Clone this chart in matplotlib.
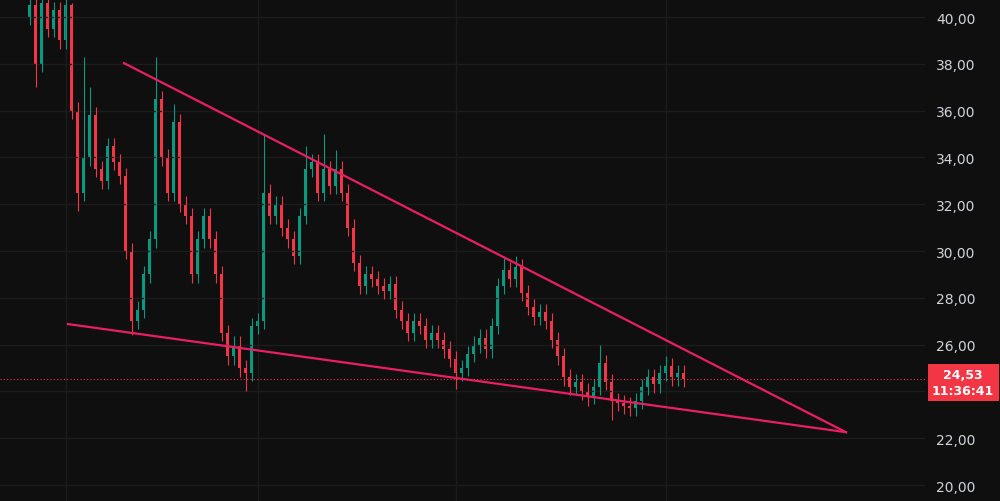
import matplotlib.pyplot as plt
from matplotlib.ticker import FuncFormatter

closes = [40.5, 38, 40.6, 39.5, 40.3, 39, 40.5, 36, 32.5, 34,
          35.8, 33.5, 33, 34.5, 33.8, 33.2, 30, 27, 27.5, 29,
          30.5, 36.5, 34, 32.5, 35.5, 32, 31.5, 29, 30.5, 31.5,
          30.5, 29, 26.5, 25.5, 26, 25, 24.8, 26.8, 27, 32.5,
          31.5, 32, 31, 30.5, 29.8, 31.5, 33.5, 33.8, 32.5, 33.5,
          32.8, 33.5, 32.5, 31, 29.5, 28.5, 29, 28.8, 28.5, 28.3,
          28.6, 27.5, 27, 26.5, 27, 26.8, 26.2, 26.5, 26.2, 25.8,
          25.4, 24.8, 25, 25.6, 26, 26.3, 25.8, 26.8, 28.5, 29.2,
          28.8, 29.3, 28.2, 27.6, 27.2, 27.4, 27, 26.2, 25.5, 24.6,
          24.2, 24.4, 24, 23.8, 24.2, 25.2, 24.4, 23.6, 23.5, 23.4,
          23.3, 23.6, 24.2, 24.6, 24.3, 24.8, 25.1, 24.6, 24.8, 24.53]
first_open = 40.0
high_spikes = {1: 40.8, 7: 40.6, 9: 38.3, 10: 37.0, 21: 38.3, 24: 36.3, 39: 35.0,
               46: 34.5, 49: 35.0, 51: 34.3, 81: 29.8, 79: 29.7, 95: 26.0, 106: 25.5}
low_spikes = {1: 37.0, 8: 31.7, 17: 26.4, 36: 24.0, 35: 24.6, 71: 24.1, 97: 22.8, 93: 23.4}
last_price = 24.53
upper_line = ([15.67, 136.0], [38.03, 22.26])
lower_line = ([6.33, 136.0], [26.88, 22.26])

BG = '#0f0f0f'
UP, DN = '#089981', '#f23645'
fig = plt.figure(figsize=(10, 5.02), dpi=100, facecolor=BG)
ax = fig.add_axes([0, 0, 0.925, 1])
ax.set_facecolor(BG)

opens = [first_open] + closes[:-1]
for i, (o, c) in enumerate(zip(opens, closes)):
    col = UP if c >= o else DN
    hi = high_spikes.get(i, max(o, c) + 0.35)
    lo = low_spikes.get(i, min(o, c) - 0.35)
    ax.vlines(i, lo, hi, color=col, lw=0.8)
    ax.bar(i, max(abs(c - o), 0.05), bottom=min(o, c), width=0.5, color=col)

ax.plot(*upper_line, color='#e91e63', lw=1.6)
ax.plot(*lower_line, color='#e91e63', lw=1.6)
ax.axhline(last_price, color=DN, lw=0.8, ls=(0, (1, 2)))

ax.set_xlim(-5, 149.17)
ax.set_ylim(19.32, 40.77)
ax.set_yticks(range(20, 41, 2))
ax.yaxis.tick_right()
ax.yaxis.set_major_formatter(FuncFormatter(lambda v, p: f"{v:.2f}".replace('.', ',')))
ax.tick_params(axis='y', colors='#d1d4dc', labelsize=10, length=0, pad=8)
ax.set_xticks([6, 38, 71, 106])
ax.tick_params(axis='x', length=0, labelbottom=False)
ax.grid(True, color='#1c1c1c', lw=1)
for s in ax.spines.values():
    s.set_visible(False)

fig.text(0.963, 0.236, "24,53\n11:36:41", ha='center', va='center', color='white',
         fontsize=9, fontweight='semibold', linespacing=1.25, zorder=5,
         bbox=dict(boxstyle='square,pad=0.35', fc=DN, ec='none'))

fig.savefig('out.png', facecolor=BG)
